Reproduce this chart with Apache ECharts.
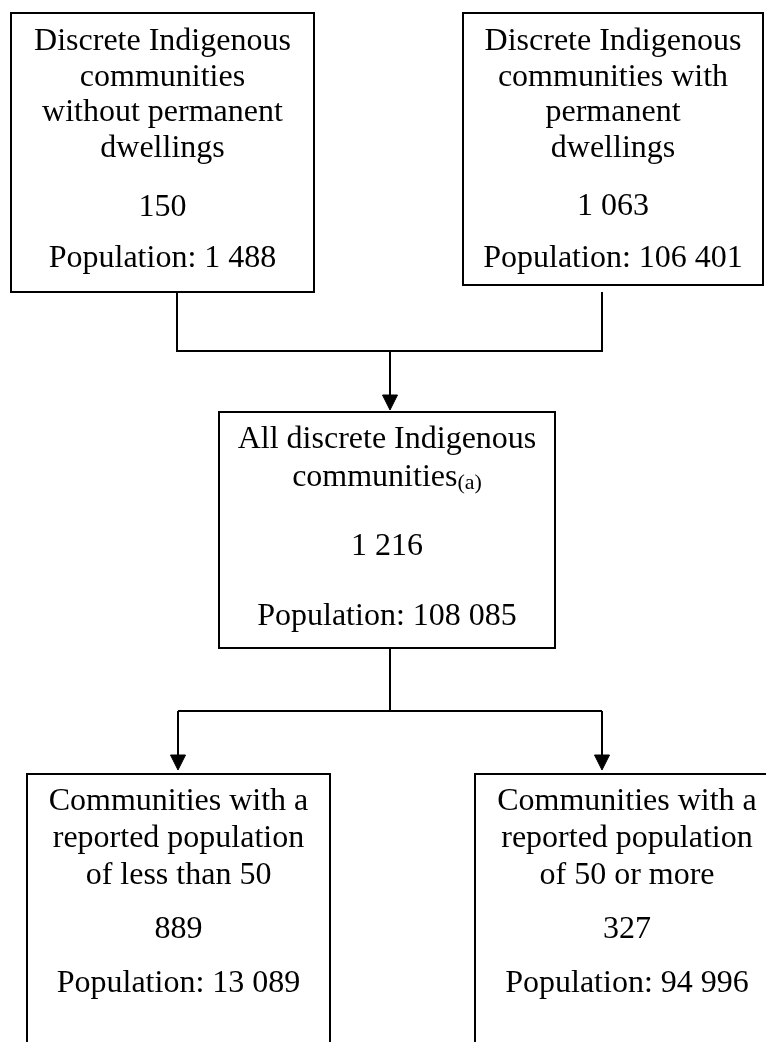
<!DOCTYPE html>
<html>
<head>
<meta charset="utf-8">
<style>
  html, body { margin: 0; padding: 0; background: #ffffff; }
  #chart { width: 766px; height: 1042px; }
</style>
<script src="https://cdn.jsdelivr.net/npm/echarts@6/dist/echarts.min.js"></script>
</head>
<body>
<div id="chart"></div>
<script>
// ---- Data ----
const boxTitles = [
  ['Discrete Indigenous', 'communities', 'without permanent', 'dwellings'],
  ['Discrete Indigenous', 'communities with', 'permanent', 'dwellings'],
  ['All discrete Indigenous', '{m|communities}{s|(a)}'],
  ['Communities with a', 'reported population', 'of less than 50'],
  ['Communities with a', 'reported population', 'of 50 or more']
];
const communityCounts = [150, 1063, 1216, 889, 327];
const populations = [1488, 106401, 108085, 13089, 94996];

// ---- Layout (positions in a 766 x 1042 frame) ----
const boxRects = [
  [11, 13, 314, 292],
  [463, 13, 763, 285],
  [219, 412, 555, 648],
  [27, 774, 330, 1070],
  [475, 774, 779, 1070]
];
const titleBaselines = [[53, 35.5], [53, 35.5], [451, 36], [813, 37], [813, 37]];
const countBaselines = [218.5, 217.5, 558, 941, 941];
const popBaselines = [270, 270, 628, 995, 995];
const connectors = [
  { pts: [[177, 288], [177, 351], [602, 351], [602, 292]], arrow: false },
  { pts: [[390, 351], [390, 400]], arrow: 410 },
  { pts: [[390, 648], [390, 711]], arrow: false },
  { pts: [[178, 711], [602, 711]], arrow: false },
  { pts: [[178, 711], [178, 760]], arrow: 770 },
  { pts: [[602, 711], [602, 760]], arrow: 770 }
];

const FS = 32;
const FONT = FS + 'px "Liberation Serif", "Times New Roman", serif';
const MID = 11; // baseline -> middle offset

function fmt(n) {
  return String(n).replace(/\B(?=(\d{3})+(?!\d))/g, ' ');
}

const chart = echarts.init(document.getElementById('chart'), null, { renderer: 'canvas' });

const option = {
  backgroundColor: '#ffffff',
  animation: false,
  grid: { left: 0, right: 0, top: 0, bottom: 0 },
  xAxis: { type: 'value', min: 0, max: 766, show: false },
  yAxis: { type: 'value', min: 0, max: 1042, inverse: true, show: false },
  series: [
    {
      type: 'custom',
      coordinateSystem: 'cartesian2d',
      clip: false,
      data: connectors.map((c, i) => [i]),
      renderItem: function (params, api) {
        const c = connectors[params.dataIndex];
        const pts = c.pts.map(p => api.coord(p));
        const children = [{
          type: 'polyline',
          shape: { points: pts },
          style: { stroke: '#000', lineWidth: 2, fill: null }
        }];
        if (c.arrow) {
          const last = c.pts[c.pts.length - 1];
          const tip = api.coord([last[0], c.arrow]);
          const bl = api.coord([last[0] - 7.5, c.arrow - 15]);
          const br = api.coord([last[0] + 7.5, c.arrow - 15]);
          children.push({
            type: 'polygon',
            shape: { points: [tip, bl, br] },
            style: { fill: '#000', stroke: '#000', lineWidth: 1 }
          });
        }
        return { type: 'group', children: children };
      }
    },
    {
      type: 'custom',
      coordinateSystem: 'cartesian2d',
      clip: false,
      data: communityCounts.map((v, i) => [i, v, populations[i]]),
      renderItem: function (params, api) {
        const i = params.dataIndex;
        const r = boxRects[i];
        const p0 = api.coord([r[0], r[1]]);
        const p1 = api.coord([r[2], r[3]]);
        const cx = (p0[0] + p1[0]) / 2;
        const children = [{
          type: 'rect',
          shape: { x: p0[0], y: p0[1], width: p1[0] - p0[0], height: p1[1] - p0[1] },
          style: { fill: '#fff', stroke: '#000', lineWidth: 2 }
        }];
        const tb = titleBaselines[i];
        boxTitles[i].forEach((line, k) => {
          const y = api.coord([0, tb[0] + k * tb[1] - MID])[1];
          children.push({
            type: 'text',
            style: {
              text: line, x: cx, y: y, font: FONT, fill: '#000',
              align: 'center', verticalAlign: 'middle',
              rich: {
                m: { fontSize: FS, fontFamily: '"Liberation Serif", serif', fill: '#000', verticalAlign: 'bottom', lineHeight: 36 },
                s: { fontSize: 22, fontFamily: '"Liberation Serif", serif', fill: '#000', verticalAlign: 'bottom', lineHeight: 29.5 }
              }
            }
          });
        });
        const yc = api.coord([0, countBaselines[i] - MID])[1];
        children.push({
          type: 'text',
          style: { text: fmt(api.value(1)), x: cx, y: yc, font: FONT, fill: '#000', align: 'center', verticalAlign: 'middle' }
        });
        const yp = api.coord([0, popBaselines[i] - MID])[1];
        children.push({
          type: 'text',
          style: { text: 'Population: ' + fmt(api.value(2)), x: cx, y: yp, font: FONT, fill: '#000', align: 'center', verticalAlign: 'middle' }
        });
        return { type: 'group', children: children };
      }
    }
  ]
};

chart.setOption(option);
</script>
</body>
</html>
